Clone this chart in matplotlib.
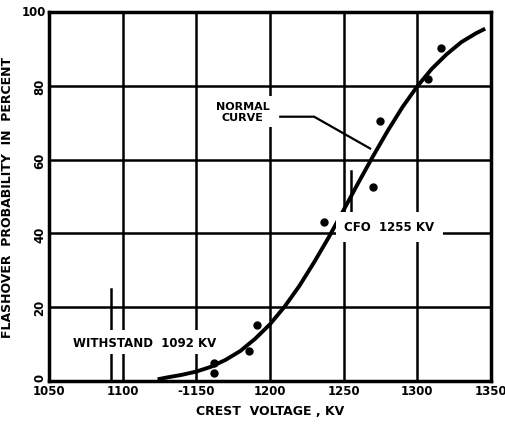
import numpy as np
import matplotlib
matplotlib.use("Agg")
from matplotlib import pyplot as plt

# measured flashover points (crest kV, percent)
test_kv = [1162, 1162, 1186, 1191, 1237, 1270, 1275, 1307, 1316]
test_pct = [2.2, 5.0, 8.1, 15.1, 43.0, 52.7, 70.5, 81.9, 90.3]

# fitted normal curve, read every 10 kV
curve_kv = [1125, 1130, 1140, 1150, 1160, 1170, 1180, 1190, 1200, 1210, 1220, 1230,
            1240, 1250, 1260, 1270, 1280, 1290, 1300, 1310, 1320, 1330, 1340, 1345]
curve_pct = [0.6, 1.0, 1.7, 2.6, 3.9, 5.8, 8.2, 11.5, 15.4, 20.2, 25.8, 32.2,
             39.0, 46.3, 53.7, 60.9, 67.8, 74.2, 79.8, 84.6, 88.5, 91.8, 94.2, 95.2]

cfo_kv = 1255
withstand_kv = 1092

x_ticks = [1050, 1100, 1150, 1200, 1250, 1300, 1350]
x_labels = ["1050", "1100", "-1150", "1200", "1250", "1300", "1350"]
y_ticks = [0, 20, 40, 60, 80, 100]

plt.rcParams['font.family'] = ["DejaVu Sans"]
plt.rcParams['font.weight'] = 'bold'

fig = plt.figure(figsize=(5.06, 4.27), dpi=100)
ax = fig.add_axes([0.097, 0.105, 0.873, 0.865])

ax.set_xlim(1050, 1350)
ax.set_ylim(0, 100)
ax.set_xticks(x_ticks)
ax.set_xticklabels(x_labels, fontsize=8.5, fontweight='bold')
ax.set_yticks(y_ticks)
ax.set_yticklabels([str(v) for v in y_ticks], fontsize=8.5, fontweight='bold',
                   rotation=90, va='center')
ax.get_yticklabels()[-1].set_rotation(0)
ax.get_yticklabels()[0].set_va('bottom')
ax.tick_params(length=0, pad=2)
ax.grid(True, color='black', lw=1.8)
for s in ax.spines.values():
    s.set_linewidth(2.5)

ax.plot(curve_kv, curve_pct, color='black', lw=2.8, zorder=4)
ax.plot(test_kv, test_pct, 'o', color='black', ms=5, zorder=5)

# withstand and CFO markers
ax.plot([withstand_kv, withstand_kv], [0, 25], color='black', lw=1.8, zorder=3)
ax.plot([cfo_kv, cfo_kv], [42, 57], color='black', lw=1.8, zorder=3)

box = dict(facecolor='white', edgecolor='none', pad=4)
ax.text(1115, 10.5, "WITHSTAND  1092 KV", fontsize=8.5, fontweight='bold',
        ha='center', va='center', bbox=box, zorder=6)
ax.text(1281, 41.8, "CFO  1255 KV", fontsize=8.5, fontweight='bold',
        ha='center', va='center', bbox=dict(facecolor='white', edgecolor='none', pad=6), zorder=6)
ax.text(1181.5, 73, "NORMAL\nCURVE", fontsize=8, fontweight='bold',
        ha='center', va='center', linespacing=1.1, bbox=box, zorder=6)
ax.plot([1207, 1230, 1268], [71.6, 71.6, 63.0], color='black', lw=1.6, zorder=6)

ax.set_xlabel("CREST  VOLTAGE , KV", fontsize=9, fontweight='bold', labelpad=5)
ax.set_ylabel("FLASHOVER  PROBABILITY  IN  PERCENT", fontsize=9,
              fontweight='bold', labelpad=6)

fig.savefig("out.png", dpi=100)
